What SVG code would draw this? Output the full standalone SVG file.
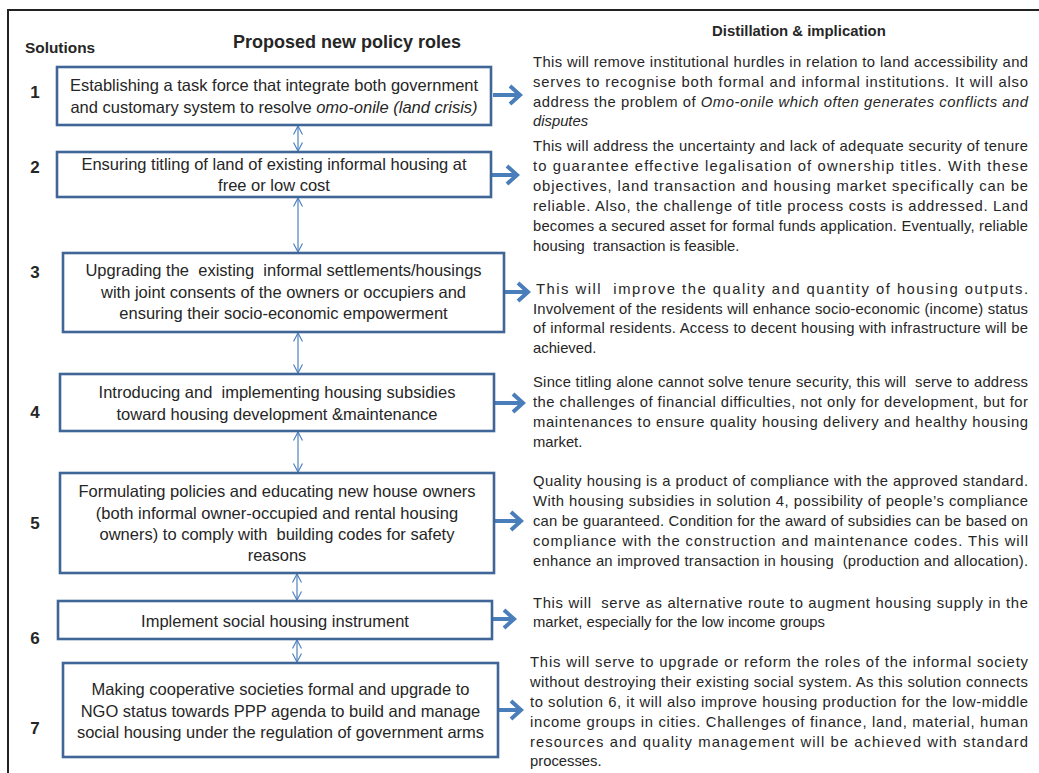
<svg xmlns="http://www.w3.org/2000/svg" width="1039" height="773" viewBox="0 0 1039 773">
<style>
text{font-family:"Liberation Sans",Arial,sans-serif;fill:#262626}
.hd{font-weight:bold}
.num{font-weight:bold;font-size:17px;text-anchor:middle}
.bx{fill:#fff;stroke:#3f6696;stroke-width:2.6}
.bt{font-size:16.5px;text-anchor:middle}
.rt{font-size:14.8px}
.it{font-style:italic}
.thin{stroke:#4f81bd;stroke-width:1.2;fill:none}
.thick{stroke:#4a7ebb;stroke-width:4;fill:none}
.frame{stroke:#222;stroke-width:2;fill:none}
</style>
<defs>
<marker id="v" viewBox="0 0 10 10" refX="9.5" refY="5" markerWidth="10" markerHeight="10" markerUnits="userSpaceOnUse" orient="auto-start-reverse">
<path d="M1,0.5 L9.5,5 L1,9.5" fill="none" stroke="#4f81bd" stroke-width="1.2"/>
</marker>
</defs>
<rect width="1039" height="773" fill="#fff"/>
<path class="frame" d="M1039,10 H8 V773"/>

<g id="headers">
<text class="hd" x="25" y="53" font-size="15.4">Solutions</text>
<text class="hd" x="233" y="48" font-size="18">Proposed new policy roles</text>
<text class="hd" x="712" y="36" font-size="14.9">Distillation &amp; implication</text>
</g>

<g id="connectors">
<line class="thin" x1="298" y1="126" x2="298" y2="151" marker-start="url(#v)" marker-end="url(#v)"/>
<line class="thin" x1="298" y1="198" x2="298" y2="252" marker-start="url(#v)" marker-end="url(#v)"/>
<line class="thin" x1="298" y1="333" x2="298" y2="373" marker-start="url(#v)" marker-end="url(#v)"/>
<line class="thin" x1="298" y1="432" x2="298" y2="472" marker-start="url(#v)" marker-end="url(#v)"/>
<line class="thin" x1="297" y1="574" x2="297" y2="600" marker-start="url(#v)" marker-end="url(#v)"/>
<line class="thin" x1="297" y1="640" x2="297" y2="662" marker-start="url(#v)" marker-end="url(#v)"/>
<path class="thick" d="M493,95 H518 M510,86 L520,95 L510,104"/>
<path class="thick" d="M492,175 H515 M507,166 L517,175 L507,184"/>
<path class="thick" d="M505,292 H526 M518,283 L528,292 L518,301"/>
<path class="thick" d="M495,403 H521 M513,394 L523,403 L513,412"/>
<path class="thick" d="M495,521 H519 M511,512 L521,521 L511,530"/>
<path class="thick" d="M493,619 H512 M504,610 L514,619 L504,628"/>
<path class="thick" d="M499,710 H519 M511,701 L521,710 L511,719"/>
</g>

<g id="node1">
<text class="num" x="35" y="98">1</text>
<rect class="bx" x="57" y="67" width="434" height="58"/>
<text class="bt" x="274" y="91">Establishing a task force that integrate both government</text>
<text class="bt" x="274" y="113">and customary system to resolve <tspan class="it">omo-onile (land crisis)</tspan></text>
</g>
<g id="node2">
<text class="num" x="35" y="173">2</text>
<rect class="bx" x="57" y="152" width="434" height="45"/>
<text class="bt" x="274" y="170">Ensuring titling of land of existing informal housing at</text>
<text class="bt" x="274" y="191">free or low cost</text>
</g>
<g id="node3">
<text class="num" x="35" y="278">3</text>
<rect class="bx" x="63" y="253" width="441" height="79"/>
<text class="bt" x="283.5" y="276" xml:space="preserve">Upgrading the  existing  informal settlements/housings</text>
<text class="bt" x="283.5" y="298">with joint consents of the owners or occupiers and</text>
<text class="bt" x="283.5" y="319">ensuring their socio-economic empowerment</text>
</g>
<g id="node4">
<text class="num" x="35" y="418">4</text>
<rect class="bx" x="60" y="374" width="434" height="57"/>
<text class="bt" x="277" y="398" xml:space="preserve">Introducing and  implementing housing subsidies</text>
<text class="bt" x="277" y="420">toward housing development &amp;maintenance</text>
</g>
<g id="node5">
<text class="num" x="35" y="529">5</text>
<rect class="bx" x="60" y="473" width="434" height="100"/>
<text class="bt" x="277" y="497">Formulating policies and educating new house owners</text>
<text class="bt" x="277" y="519">(both informal owner-occupied and rental housing</text>
<text class="bt" x="277" y="540" xml:space="preserve">owners) to comply with  building codes for safety</text>
<text class="bt" x="277" y="561">reasons</text>
</g>
<g id="node6">
<text class="num" x="35" y="644">6</text>
<rect class="bx" x="58" y="601" width="434" height="38"/>
<text class="bt" x="275" y="627">Implement social housing instrument</text>
</g>
<g id="node7">
<text class="num" x="35" y="734">7</text>
<rect class="bx" x="63" y="663" width="435" height="94"/>
<text class="bt" x="280.5" y="695">Making cooperative societies formal and upgrade to</text>
<text class="bt" x="280.5" y="717">NGO status towards PPP agenda to build and manage</text>
<text class="bt" x="280.5" y="738">social housing under the regulation of government arms</text>
</g>

<g id="note1">
<text class="rt" x="533" y="66.5" textLength="495" lengthAdjust="spacing">This will remove institutional hurdles in relation to land accessibility and</text>
<text class="rt" x="533" y="86.5" textLength="495" lengthAdjust="spacing">serves to recognise both formal and informal institutions. It will also</text>
<text class="rt" x="533" y="106.5" textLength="495" lengthAdjust="spacing">address the problem of <tspan class="it">Omo-onile which often generates conflicts and</tspan></text>
<text class="rt it" x="533" y="126">disputes</text>
</g>
<g id="note2">
<text class="rt" x="533" y="151" textLength="495" lengthAdjust="spacing">This will address the uncertainty and lack of adequate security of tenure</text>
<text class="rt" x="533" y="171" textLength="495" lengthAdjust="spacing">to guarantee effective legalisation of ownership titles. With these</text>
<text class="rt" x="533" y="191" textLength="495" lengthAdjust="spacing">objectives, land transaction and housing market specifically can be</text>
<text class="rt" x="533" y="211" textLength="495" lengthAdjust="spacing">reliable. Also, the challenge of title process costs is addressed. Land</text>
<text class="rt" x="533" y="231" textLength="495" lengthAdjust="spacing">becomes a secured asset for formal funds application. Eventually, reliable</text>
<text class="rt" x="533" y="251" xml:space="preserve">housing  transaction is feasible.</text>
</g>
<g id="note3">
<text class="rt" x="536" y="294" textLength="492" lengthAdjust="spacing" xml:space="preserve">This will  improve the quality and quantity of housing outputs.</text>
<text class="rt" x="533" y="314" textLength="495" lengthAdjust="spacing">Involvement of the residents will enhance socio-economic (income) status</text>
<text class="rt" x="533" y="333" textLength="495" lengthAdjust="spacing">of informal residents. Access to decent housing with infrastructure will be</text>
<text class="rt" x="533" y="353">achieved.</text>
</g>
<g id="note4">
<text class="rt" x="533" y="387" textLength="495" lengthAdjust="spacing" xml:space="preserve">Since titling alone cannot solve tenure security, this will  serve to address</text>
<text class="rt" x="533" y="407" textLength="495" lengthAdjust="spacing">the challenges of financial difficulties, not only for development, but for</text>
<text class="rt" x="533" y="427" textLength="495" lengthAdjust="spacing">maintenances to ensure quality housing delivery and healthy housing</text>
<text class="rt" x="533" y="447">market.</text>
</g>
<g id="note5">
<text class="rt" x="533" y="486" textLength="495" lengthAdjust="spacing">Quality housing is a product of compliance with the approved standard.</text>
<text class="rt" x="533" y="506" textLength="495" lengthAdjust="spacing">With housing subsidies in solution 4, possibility of people’s compliance</text>
<text class="rt" x="533" y="526" textLength="495" lengthAdjust="spacing">can be guaranteed. Condition for the award of subsidies can be based on</text>
<text class="rt" x="533" y="546" textLength="495" lengthAdjust="spacing">compliance with the construction and maintenance codes. This will</text>
<text class="rt" x="533" y="566" textLength="495" lengthAdjust="spacing" xml:space="preserve">enhance an improved transaction in housing  (production and allocation).</text>
</g>
<g id="note6">
<text class="rt" x="533" y="608" textLength="495" lengthAdjust="spacing" xml:space="preserve">This will  serve as alternative route to augment housing supply in the</text>
<text class="rt" x="533" y="627">market, especially for the low income groups</text>
</g>
<g id="note7">
<text class="rt" x="530" y="667" textLength="498" lengthAdjust="spacing">This will serve to upgrade or reform the roles of the informal society</text>
<text class="rt" x="530" y="687" textLength="498" lengthAdjust="spacing">without destroying their existing social system. As this solution connects</text>
<text class="rt" x="530" y="707" textLength="498" lengthAdjust="spacing">to solution 6, it will also improve housing production for the low-middle</text>
<text class="rt" x="530" y="727" textLength="498" lengthAdjust="spacing">income groups in cities. Challenges of finance, land, material, human</text>
<text class="rt" x="530" y="747" textLength="498" lengthAdjust="spacing">resources and quality management will be achieved with standard</text>
<text class="rt" x="530" y="766">processes.</text>
</g>
</svg>
